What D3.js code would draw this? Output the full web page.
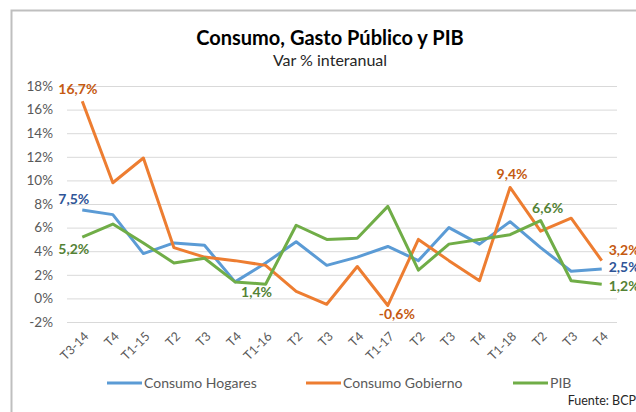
<!DOCTYPE html>
<html>
<head>
<meta charset="utf-8">
<script src="https://cdn.jsdelivr.net/npm/d3@7"></script>
<style>
  body { margin: 0; background: #fff; }
  text { font-family: Lato, "Open Sans", sans-serif; }
</style>
</head>
<body>
<script>
// quarters on the x axis
var quarters = ["T3-14", "T4", "T1-15", "T2", "T3", "T4", "T1-16", "T2", "T3", "T4",
                "T1-17", "T2", "T3", "T4", "T1-18", "T2", "T3", "T4"];

// Var % interanual
var hogares  = [7.5, 7.1, 3.8, 4.7, 4.5, 1.4, 3.0, 4.8, 2.8, 3.5, 4.4, 3.2, 6.0, 4.6, 6.5, 4.3, 2.3, 2.5];
var gobierno = [16.7, 9.8, 11.9, 4.3, 3.5, 3.2, 2.8, 0.6, -0.5, 2.7, -0.6, 5.0, 3.2, 1.5, 9.4, 5.7, 6.8, 3.2];
var pib      = [5.2, 6.3, 4.7, 3.0, 3.4, 1.4, 1.2, 6.2, 5.0, 5.1, 7.8, 2.4, 4.6, 5.0, 5.4, 6.6, 1.5, 1.2];

var yTicks = [-2, 0, 2, 4, 6, 8, 10, 12, 14, 16, 18];

var series = [
  { name: "Consumo Hogares", values: hogares, color: "#5B9BD5", labelColor: "#2F5597" },
  { name: "Consumo Gobierno", values: gobierno, color: "#ED7D31", labelColor: "#C55A11" },
  { name: "PIB", values: pib, color: "#70AD47", labelColor: "#548235" }
];

// which points carry a label: [series index, point index, dx, dy, anchor]
var labels = [
  [1, 0, -24, -11, "start"],
  [0, 0, -24, -9, "start"],
  [2, 0, -24, 13, "start"],
  [2, 5, 6, 12, "start"],
  [1, 10, 9, 10, "middle"],
  [1, 14, 2, -12, "middle"],
  [2, 15, 7, -11, "middle"],
  [1, 17, 7, -9, "start"],
  [0, 17, 7, 0, "start"],
  [2, 17, 7, 3, "start"]
];

var w = 636, h = 412;
// note: "top" is taken by window.top, hence the pad prefix
var padLeft = 67, padRight = 617, padTop = 86, padBottom = 322;

var svg = d3.select("body").append("svg")
  .attr("width", w)
  .attr("height", h);

// chart frame (runs off the picture on the right and bottom)
svg.append("rect")
  .attr("x", 11.5).attr("y", 10.5)
  .attr("width", 660).attr("height", 440)
  .attr("fill", "#fff")
  .attr("stroke", "#BFBFBF")
  .attr("stroke-width", 2);

var x = d3.scaleBand()
  .domain(d3.range(quarters.length))
  .range([padLeft, padRight]);

var y = d3.scaleLinear()
  .domain([-2, 18])
  .range([padBottom, padTop]);

// grid + y labels
var yAxis = d3.axisLeft(y)
  .tickValues(yTicks)
  .tickSize(-(padRight - padLeft))
  .tickFormat(d => d + "%");

svg.append("g")
  .attr("transform", `translate(${padLeft},0)`)
  .call(yAxis)
  .call(g => g.select(".domain").remove())
  .call(g => g.selectAll(".tick line").attr("stroke", "#D9D9D9").attr("stroke-width", 1))
  .call(g => g.selectAll(".tick text")
    .attr("x", -14)
    .attr("fill", "#595959")
    .style("font-size", "13.5px"));

// x labels, rotated
var xAxis = d3.axisBottom(x)
  .tickSize(0)
  .tickFormat(i => quarters[i]);

svg.append("g")
  .attr("transform", `translate(0,${padBottom})`)
  .call(xAxis)
  .call(g => g.select(".domain").remove())
  .call(g => g.selectAll(".tick text")
    .attr("fill", "#595959")
    .style("font-size", "12.5px")
    .attr("text-anchor", "end")
    .attr("dy", 0)
    .attr("transform", "translate(5,13) rotate(-45)"));

var line = d3.line()
  .x((d, i) => x(i) + x.bandwidth() / 2)
  .y(d => y(d));

svg.selectAll(".serie")
  .data(series)
  .enter()
  .append("path")
  .attr("class", "serie")
  .attr("d", d => line(d.values))
  .attr("fill", "none")
  .attr("stroke", d => d.color)
  .attr("stroke-width", 3)
  .attr("stroke-linejoin", "round");

// plain hyphen for negatives, comma decimals
var fmt = v => (v < 0 ? "-" : "") + Math.abs(v).toFixed(1).replace(".", ",") + "%";

// data labels
svg.selectAll(".dlabel")
  .data(labels)
  .enter()
  .append("text")
  .attr("class", "dlabel")
  .attr("x", d => x(d[1]) + x.bandwidth() / 2 + d[2])
  .attr("y", d => y(series[d[0]].values[d[1]]) + d[3])
  .attr("text-anchor", d => d[4])
  .attr("dominant-baseline", "middle")
  .attr("fill", d => series[d[0]].labelColor)
  .style("font-size", "14px")
  .style("font-weight", "bold")
  .text(d => fmt(series[d[0]].values[d[1]]));

// title
svg.append("text")
  .attr("x", 330).attr("y", 45)
  .attr("text-anchor", "middle")
  .attr("fill", "#000")
  .style("font-size", "20px")
  .style("font-weight", "bold")
  .text("Consumo, Gasto Público y PIB");

svg.append("text")
  .attr("x", 330).attr("y", 66)
  .attr("text-anchor", "middle")
  .attr("fill", "#262626")
  .style("font-size", "16px")
  .text("Var % interanual");

// legend
var legendX = [107, 306, 513];
var legend = svg.selectAll(".legend")
  .data(series)
  .enter()
  .append("g")
  .attr("class", "legend")
  .attr("transform", (d, i) => `translate(${legendX[i]}, 383)`);

legend.append("line")
  .attr("x1", 0).attr("x2", 35)
  .attr("stroke", d => d.color)
  .attr("stroke-width", 3);

legend.append("text")
  .attr("x", 37)
  .attr("dy", "0.35em")
  .attr("fill", "#595959")
  .style("font-size", "14px")
  .text(d => d.name);

svg.append("text")
  .attr("x", 636).attr("y", 405)
  .attr("text-anchor", "end")
  .attr("fill", "#262626")
  .style("font-size", "12.5px")
  .text("Fuente: BCP");
</script>
</body>
</html>
